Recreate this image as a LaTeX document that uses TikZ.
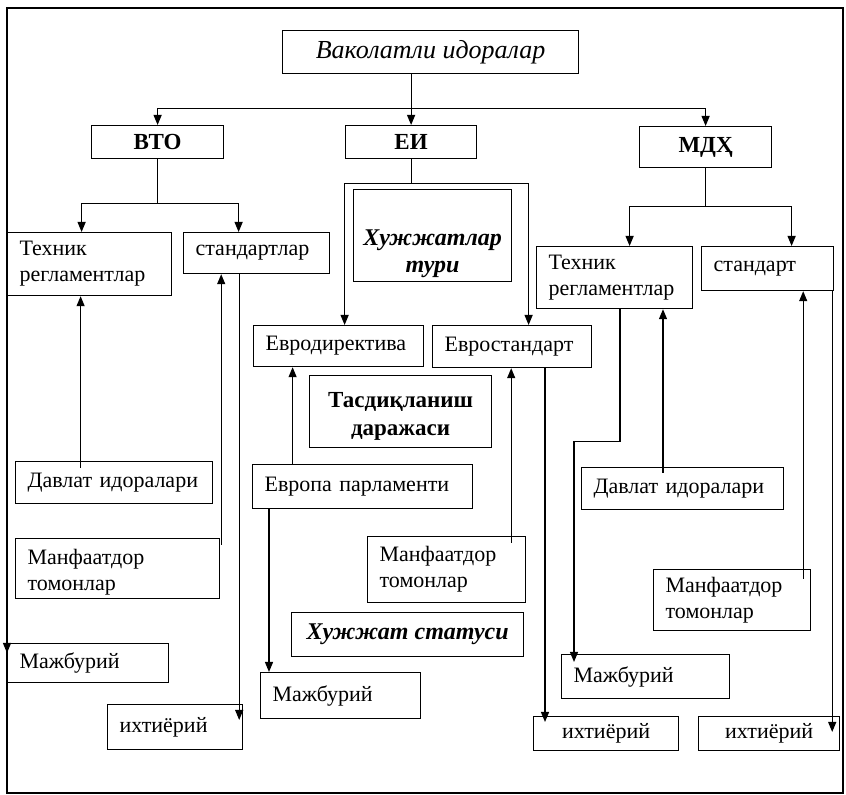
\documentclass[tikz,border=0pt]{standalone}
\usepackage{fontspec}
\setmainfont{Liberation Serif}
\usetikzlibrary{arrows.meta}
\begin{document}
\begin{tikzpicture}[x=0.5pt,y=-0.5pt,
  blk/.style={draw,line width=0.6pt,inner sep=0pt,anchor=north west,font=\fontsize{11}{13}\selectfont},
  lbx/.style={blk,align=left,inner xsep=6pt},
  cbx/.style={blk,align=center},
  bhd/.style={font=\fontsize{11.5}{14}\selectfont\bfseries},
  ihd/.style={font=\fontsize{13}{15}\selectfont\itshape},
  bihd/.style={font=\fontsize{12}{13.5}\selectfont\bfseries\itshape},
  ln/.style={line width=0.6pt},
  arr/.style={line width=0.6pt,-{Triangle[length=5pt,width=4pt]}}]
\useasboundingbox (0,0) rectangle (846,795);
\draw[ln] (7,8) rectangle (843,793);
\node[cbx,ihd,minimum width=148pt,minimum height=21.5pt] (vak) at (282,30) {Ваколатли идоралар};
\node[cbx,bhd,minimum width=66pt,minimum height=16.5pt] (vto) at (91,125) {ВТО};
\node[cbx,bhd,minimum width=65.5pt,minimum height=16.5pt] (ei) at (345,125) {ЕИ};
\node[cbx,bhd,minimum width=66pt,minimum height=20.5pt] (mdx) at (639,126) {МДҲ};
\node[lbx,text width=70pt,minimum height=31.5pt] (tr1) at (7,232) {Техник\\регламентлар};
\node[lbx,text width=61pt,minimum height=20.5pt] (st1) at (183,232) {стандартлар};
\node[cbx,bihd,minimum width=79pt,minimum height=46pt] (xt) at (353,189) {\rule{0pt}{26pt}Хужжатлар\\тури};
\node[lbx,text width=73pt,minimum height=20.5pt] (ed) at (253,325) {Евродиректива};
\node[lbx,text width=67.5pt,minimum height=21pt] (es) at (432,325) {Евростандарт};
\node[cbx,bhd,minimum width=91pt,minimum height=36pt] (td) at (309,375) {\rule{0pt}{12pt}Тасдиқланиш\\даражаси};
\node[lbx,text width=98pt,minimum height=22pt] (ep) at (252,464) {Европа парламенти};
\node[lbx,text width=67pt,minimum height=33pt] (mt2) at (367,536) {Манфаатдор\\томонлар};
\node[cbx,bihd,minimum width=116pt,minimum height=22pt] (hs) at (291,612) {Хужжат статуси};
\node[lbx,text width=68pt,minimum height=23pt] (mj2) at (260,672) {Мажбурий};
\node[lbx,text width=66pt,minimum height=31pt] (tr3) at (536,246) {Техник\\регламентлар};
\node[lbx,text width=54pt,minimum height=22pt] (st3) at (701,246) {стандарт};
\node[lbx,text width=89pt,minimum height=21pt] (di3) at (581,467) {Давлат идоралари};
\node[lbx,text width=66.5pt,minimum height=30.5pt] (mt3) at (653,569) {Манфаатдор\\томонлар};
\node[lbx,text width=72pt,minimum height=22pt] (mj3) at (561,654) {Мажбурий};
\node[cbx,minimum width=72.5pt,minimum height=17pt] (ix2) at (533,716) {ихтиёрий};
\node[cbx,minimum width=70.5pt,minimum height=17pt] (ix3) at (698,716) {ихтиёрий};
\node[lbx,text width=86.5pt,minimum height=21pt] (di1) at (15,461) {Давлат идоралари};
\node[lbx,text width=90pt,minimum height=30pt] (mt1) at (15,538) {\rule{0pt}{11pt}Манфаатдор\\томонлар};
\node[lbx,text width=68.5pt,minimum height=19.5pt] (mj1) at (7,643) {Мажбурий};
\node[lbx,text width=55.5pt,minimum height=22.5pt] (ix1) at (107,704) {ихтиёрий};
\draw[arr] (vak.south -| ei.north) -- (ei.north);
\draw[arr] (vak.south -| ei.north) ++(0,34) -| (vto.north);
\draw[arr] (vak.south -| ei.north) ++(0,34) -| (mdx.north);
\draw[ln] (vto.south) -- ++(0,44) coordinate (vb);
\draw[arr] (vb) -| ([xshift=-4pt]tr1.north);
\draw[arr] (vb) -| ([xshift=-9pt]st1.north);
\draw[ln] (ei.south) -- ++(0,24) coordinate (eb);
\draw[arr] (eb) -| ([xshift=3pt]ed.north);
\draw[arr] (eb) -| ([xshift=8.25pt]es.north);
\draw[ln] (mdx.south) -- ++(0,38) coordinate (mb);
\draw[arr] (mb) -| ([xshift=7.5pt]tr3.north);
\draw[arr] (mb) -| ([xshift=12pt]st3.north);
\draw[arr] ([xshift=-16.75pt,yshift=-3.5pt]di1.north) -- ([xshift=-16.75pt]di1.north |- tr1.south);
\draw[arr] ([xshift=0.5pt,yshift=-3.5pt]mt1.north east) -- ([xshift=0.5pt]mt1.north east |- st1.south);
\draw[arr] ([xshift=-2pt]ix1.north east |- st1.south) -- ([xshift=-2pt,yshift=-8pt]ix1.north east);
\draw[arr] (tr1.south west) -- ([yshift=-5pt]mj1.north west);
\draw[arr] ([xshift=-35pt]ep.north) -- ([xshift=-35pt]ep.north |- ed.south);
\draw[arr] ([xshift=8.5pt]ep.south west) -- ([xshift=8.5pt]ep.south west |- mj2.north);
\draw[arr] ([xshift=-7.5pt,yshift=-3.5pt]mt2.north east) -- ([xshift=-7.5pt]mt2.north east |- es.south);
\draw[arr] ([xshift=6pt]ix2.north west |- es.south) -- ([xshift=6pt,yshift=-3pt]ix2.north west);
\draw[arr] ([xshift=42pt]tr3.south west) -- ++(0,132) -| ([xshift=6.5pt,yshift=-4pt]mj3.north west);
\draw[arr] ([xshift=41pt,yshift=-3pt]di3.north west) -- ([xshift=41pt]di3.north west |- tr3.south);
\draw[arr] ([xshift=-4pt,yshift=-5pt]mt3.north east) -- ([xshift=-4pt]mt3.north east |- st3.south);
\draw[arr] ([xshift=-4pt]ix3.north east |- st3.south) -- ([xshift=-4pt,yshift=-8pt]ix3.north east);
\end{tikzpicture}
\end{document}
